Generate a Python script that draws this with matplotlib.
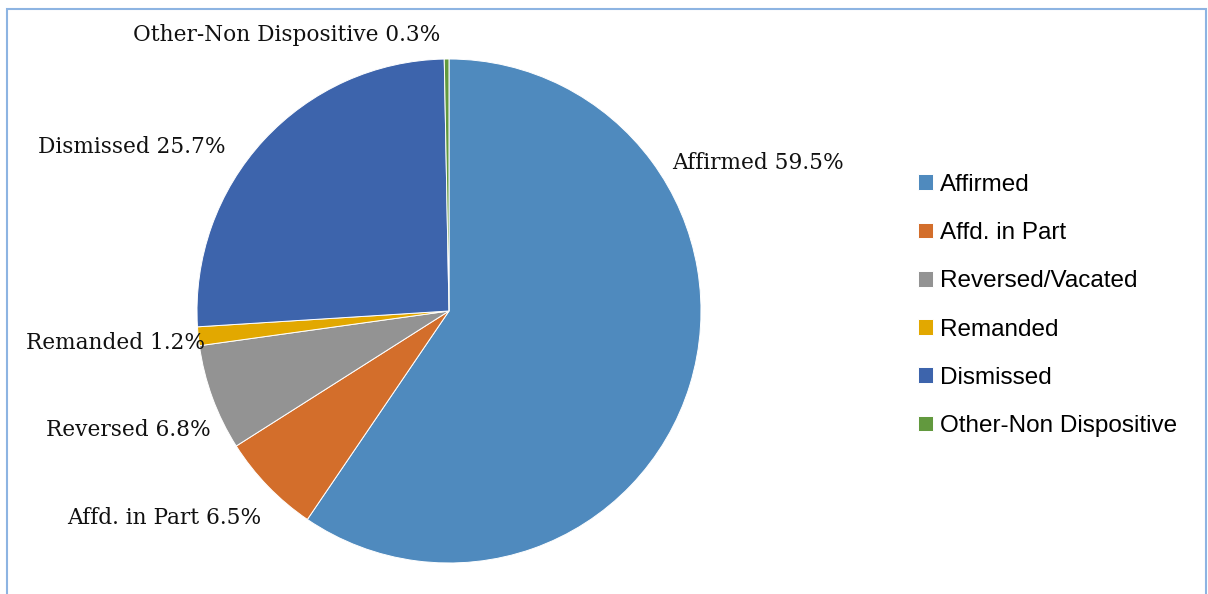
import matplotlib.pyplot as plt
from matplotlib.patches import Rectangle

categories = ['Affirmed', 'Affd. in Part', 'Reversed/Vacated', 'Remanded',
              'Dismissed', 'Other-Non Dispositive']
short_names = ['Affirmed', 'Affd. in Part', 'Reversed', 'Remanded',
               'Dismissed', 'Other-Non Dispositive']
shares = [59.5, 6.5, 6.8, 1.2, 25.7, 0.3]  # percent
colors = ['#4F8ABE', '#D36E2B', '#939393', '#E2A800', '#3D64AC', '#62993E']

W, H = 1208, 594
fig = plt.figure(figsize=(W / 100, H / 100), dpi=100)
ax = fig.add_axes([0, 0, 1, 1])

# pie in pixel-like data units so labels can sit where Excel put them
cx, cy, r = 449, H - 311, 252
wedges, _ = ax.pie(shares, colors=colors, startangle=90, counterclock=False,
                   center=(cx, cy), radius=r,
                   wedgeprops=dict(edgecolor='white', linewidth=0.7))
ax.set_xlim(0, W)
ax.set_ylim(0, H)
ax.set_aspect('auto')
ax.axis('off')

# label anchors (pixels from top-left) and alignment
label_pos = [(672, 163, 'left'), (261, 518, 'right'), (211, 430, 'right'),
             (205, 343, 'right'), (226, 147, 'right'), (440, 35, 'right')]
for name, v, (px, py, ha) in zip(short_names, shares, label_pos):
    ax.text(px, H - py, f'{name} {v}%', ha=ha, va='center',
            fontsize=15.6, family='DejaVu Serif', color='#111111', zorder=5)

leg = fig.legend(wedges, categories, loc='upper left',
                 bbox_to_anchor=(896 / W, 1 - 152 / H), frameon=False,
                 handlelength=0.62, handleheight=0.62, handletextpad=0.3,
                 labelspacing=1.08, prop=dict(family='Liberation Sans', size=17.5))

# thin light-blue chart border
fig.patches.append(Rectangle((7 / W, -0.02), (1206 - 7) / W, 1 - 9 / H + 0.02,
                             transform=fig.transFigure, fill=False,
                             edgecolor='#8DB4E2', linewidth=1.5))

fig.savefig('out.png', dpi=100)
